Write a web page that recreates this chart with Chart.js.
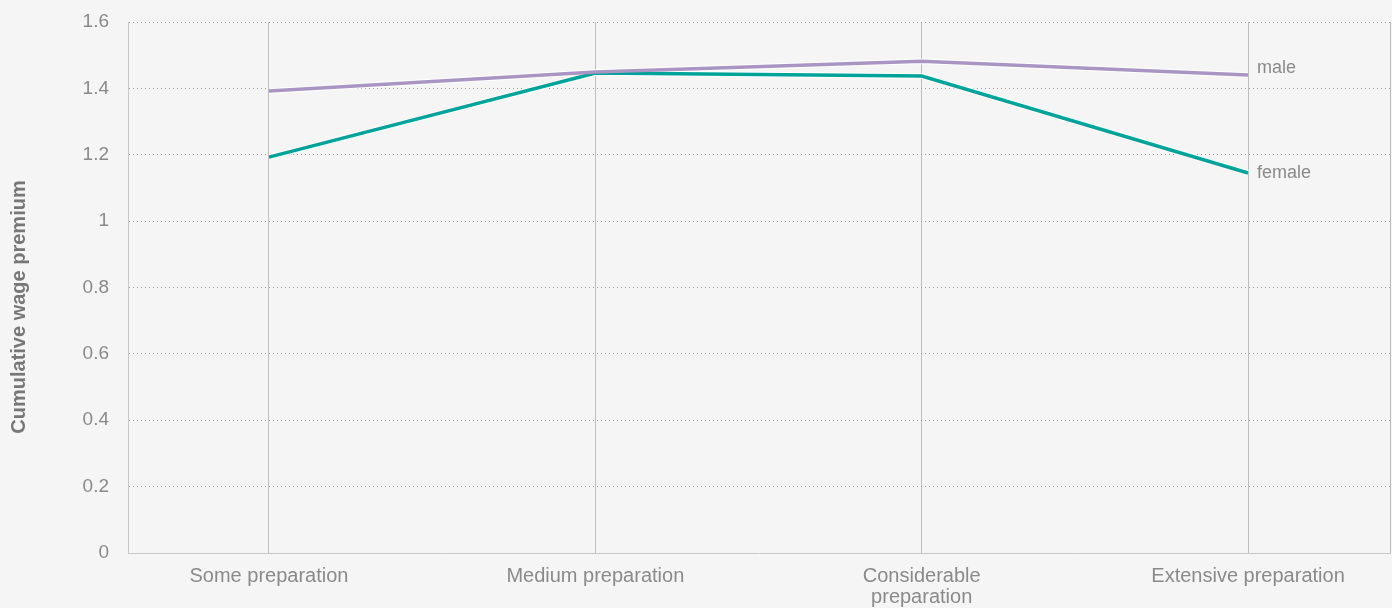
<!DOCTYPE html>
<html>
<head>
<meta charset="utf-8">
<script src="https://cdn.jsdelivr.net/npm/chart.js@4"></script>
<style>
  html, body { margin: 0; padding: 0; background: #f5f5f5; }
  #wrap { width: 1392px; height: 608px; }
</style>
</head>
<body>
<div id="wrap"><canvas id="c"></canvas></div>
<script>
// categories sit at x = 0..3 on a linear scale so the plot can run past them
const categories = ['Some preparation', 'Medium preparation', ['Considerable', 'preparation'], 'Extensive preparation']
const male = [1.392, 1.449, 1.482, 1.44]
const female = [1.193, 1.446, 1.437, 1.145]
const yTicks = [0, 0.2, 0.4, 0.6, 0.8, 1, 1.2, 1.4, 1.6]
const yTitle = 'Cumulative wage premium'

const grey = '#8a8a8a'
const font = 'Helvetica Neue, Liberation Sans, Arial, sans-serif'
const points = (arr) => arr.map((v, i) => ({ x: i, y: v }))

// names at the end of each line, plus the y title centred on the whole canvas
const labels = {
  id: 'labels',
  afterDatasetsDraw(chart) {
    const ctx = chart.ctx
    ctx.save()
    ctx.font = '18px ' + font
    ctx.fillStyle = grey
    ctx.textBaseline = 'middle'
    chart.data.datasets.forEach((ds, i) => {
      if (!ds.endLabel) return
      const pts = chart.getDatasetMeta(i).data
      const p = pts[pts.length - 1]
      ctx.fillText(ds.endLabel, p.x + 9, p.y + ds.labelShift)
    })
    ctx.translate(19, chart.height / 2 + 3)
    ctx.rotate(-Math.PI / 2)
    ctx.textAlign = 'center'
    ctx.fillStyle = '#777'
    ctx.font = 'bold 20px ' + font
    ctx.fillText(yTitle, 0, 0)
    ctx.restore()
  },
}

new Chart(document.getElementById('c'), {
  type: 'line',
  data: {
    datasets: [
      { data: points(male), borderColor: '#a994c4', borderWidth: 3.5, order: 0, endLabel: 'male', labelShift: -7 },
      { data: points(female), borderColor: '#00a399', borderWidth: 3.5, order: 0, endLabel: 'female', labelShift: 0 },
      // white halos underneath
      { data: points(male), borderColor: '#ffffff', borderWidth: 5.5, order: 5 },
      { data: points(female), borderColor: '#ffffff', borderWidth: 5.5, order: 5 },
    ],
  },
  options: {
    responsive: true,
    maintainAspectRatio: false,
    animation: false,
    elements: { point: { radius: 0, hoverRadius: 0, borderWidth: 0, hitRadius: 0 } },
    layout: { padding: { top: 22, right: 2, left: 0, bottom: 0 } },
    plugins: { legend: false, tooltip: { enabled: false } },
    scales: {
      x: {
        type: 'linear',
        min: -0.432,
        max: 3.435,
        afterBuildTicks: (s) => {
          s.ticks = [0, 1, 2, 3, s.max].map((v) => ({ value: v }))
        },
        afterFit: (s) => {
          s.height = 55
          s.paddingLeft = 0
          s.paddingRight = 0
        },
        ticks: {
          autoSkip: false,
          maxRotation: 0,
          padding: 13,
          color: grey,
          font: { family: font, size: 20, lineHeight: 1.05 },
          callback: (v) => categories[v] ?? '',
        },
        grid: { color: '#bdbdbd', lineWidth: 1, drawTicks: false },
        border: { color: '#c8c8c8', width: 1 },
      },
      y: {
        min: 0,
        max: 1.6,
        afterBuildTicks: (s) => { s.ticks = yTicks.map((v) => ({ value: v })) },
        afterFit: (s) => {
          s.width = 128
          s.paddingTop = 0
          s.paddingBottom = 0
        },
        ticks: {
          padding: 19,
          color: grey,
          font: { family: font, size: 19 },
          callback: (v) => String(+v.toFixed(1)),
        },
        grid: { color: '#9a9a9a', lineWidth: 1, drawTicks: false },
        border: { color: '#c8c8c8', width: 1, dash: [1, 3] },
      },
    },
  },
  plugins: [labels],
})
</script>
</body>
</html>
